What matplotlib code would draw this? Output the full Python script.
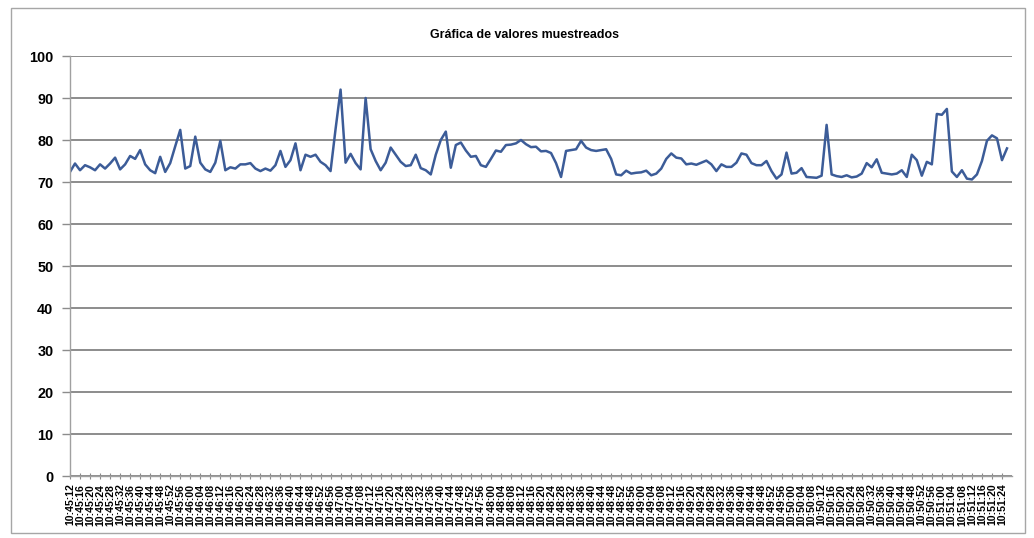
import matplotlib
matplotlib.use("Agg")
import matplotlib.pyplot as plt
from matplotlib.patches import Rectangle
import pandas as pd

# sampled values, one reading every 2 s starting at 10:45:12
start_time = "2000-01-01 10:45:12"
sample_step_s = 2
values = [
    72.4, 74.4, 72.8, 74.0, 73.5, 72.8, 74.2, 73.2, 74.4, 75.8,
    73.0, 74.2, 76.2, 75.5, 77.6, 74.2, 72.8, 72.1, 76.0, 72.4,
    74.5, 78.5, 82.4, 73.2, 73.8, 80.8, 74.6, 73.0, 72.4, 74.6,
    79.8, 72.8, 73.5, 73.2, 74.2, 74.2, 74.5, 73.2, 72.6, 73.2,
    72.7, 74.0, 77.4, 73.6, 75.2, 79.2, 72.8, 76.5, 76.0, 76.5,
    74.8, 74.0, 72.6, 82.6, 92.0, 74.6, 76.7, 74.5, 73.0, 90.0,
    77.8, 75.0, 72.8, 74.6, 78.2, 76.5, 74.8, 73.8, 74.0, 76.5,
    73.3, 72.8, 71.8, 76.5, 80.0, 82.0, 73.4, 78.8, 79.4, 77.5,
    76.0, 76.2, 74.0, 73.6, 75.5, 77.5, 77.2, 78.8, 78.9, 79.2,
    80.0, 79.0, 78.3, 78.4, 77.3, 77.4, 76.9, 74.5, 71.2, 77.4,
    77.6, 77.8, 79.8, 78.2, 77.6, 77.4, 77.6, 77.8, 75.5, 71.8,
    71.6, 72.7, 72.0, 72.2, 72.3, 72.7, 71.6, 72.0, 73.2, 75.5,
    76.8, 75.8, 75.6, 74.2, 74.4, 74.1, 74.6, 75.1, 74.2, 72.6,
    74.2, 73.6, 73.6, 74.6, 76.8, 76.5, 74.5, 74.0, 74.0, 75.0,
    72.6, 70.8, 71.8, 77.0, 72.0, 72.2, 73.3, 71.2, 71.1, 71.0,
    71.5, 83.6, 71.8, 71.4, 71.2, 71.6, 71.1, 71.3, 72.0, 74.5,
    73.5, 75.4, 72.2, 72.0, 71.8, 72.0, 72.8, 71.2, 76.5, 75.2,
    71.5, 74.8, 74.2, 86.2, 86.0, 87.4, 72.5, 71.2, 72.8, 70.8,
    70.6, 71.8, 75.0, 79.8, 81.1, 80.4, 75.2, 78.0,
]

# axis labels every 4 s from 10:45:12 to 10:51:24
label_step_s = 4
label_count = 94
axis_span_s = 376
y_ticks = list(range(0, 101, 10))

title = "Gráfica de valores muestreados"

t0 = pd.Timestamp(start_time)
secs = [i * sample_step_s for i in range(len(values))]
label_secs = [i * label_step_s for i in range(label_count)]
label_text = [(t0 + pd.Timedelta(seconds=s)).strftime("%H:%M:%S") for s in label_secs]

W, H = 1034, 538
fig = plt.figure(figsize=(W / 100, H / 100), dpi=100)
fig.patch.set_facecolor("white")

# chart frame
fig.patches.append(Rectangle((11 / W, 1 - 533 / H), 1014 / W, 525 / H,
                             transform=fig.transFigure, fill=False,
                             ec="#a6a6a6", lw=1.0))

ax = fig.add_axes([70 / W, 1 - 476 / H, 942 / W, 420 / H])
ax.plot(secs, values, color="#3c5c98", lw=1.8, solid_joinstyle="round")

ax.set_xlim(0, axis_span_s)
ax.set_ylim(0, 100)
ax.set_yticks(y_ticks)
ax.yaxis.grid(True, color="#8c8c8c", lw=1.4)
ax.set_axisbelow(True)

for side in ("top", "right"):
    ax.spines[side].set_visible(False)
for side in ("left", "bottom"):
    ax.spines[side].set_color("#a0a0a0")
    ax.spines[side].set_linewidth(1.0)

ax.set_xticks(label_secs)
ax.set_xticklabels(label_text, rotation=90, fontsize=7.6, fontweight="bold",
                   family="Liberation Sans")
ax.tick_params(axis="x", direction="inout", length=5, width=0.8,
               color="#8c8c8c", pad=3)
ax.tick_params(axis="y", direction="out", length=6, width=1.0,
               color="#8c8c8c", pad=6)
for lbl in ax.get_yticklabels():
    lbl.set_fontsize(10.4)
    lbl.set_fontweight("bold")
    lbl.set_family("Liberation Sans")

fig.text(525 / W, 1 - 35 / H, title, ha="center", va="center",
         fontsize=8.9, fontweight="bold", family="Liberation Sans")

fig.savefig("out.png", dpi=100)
